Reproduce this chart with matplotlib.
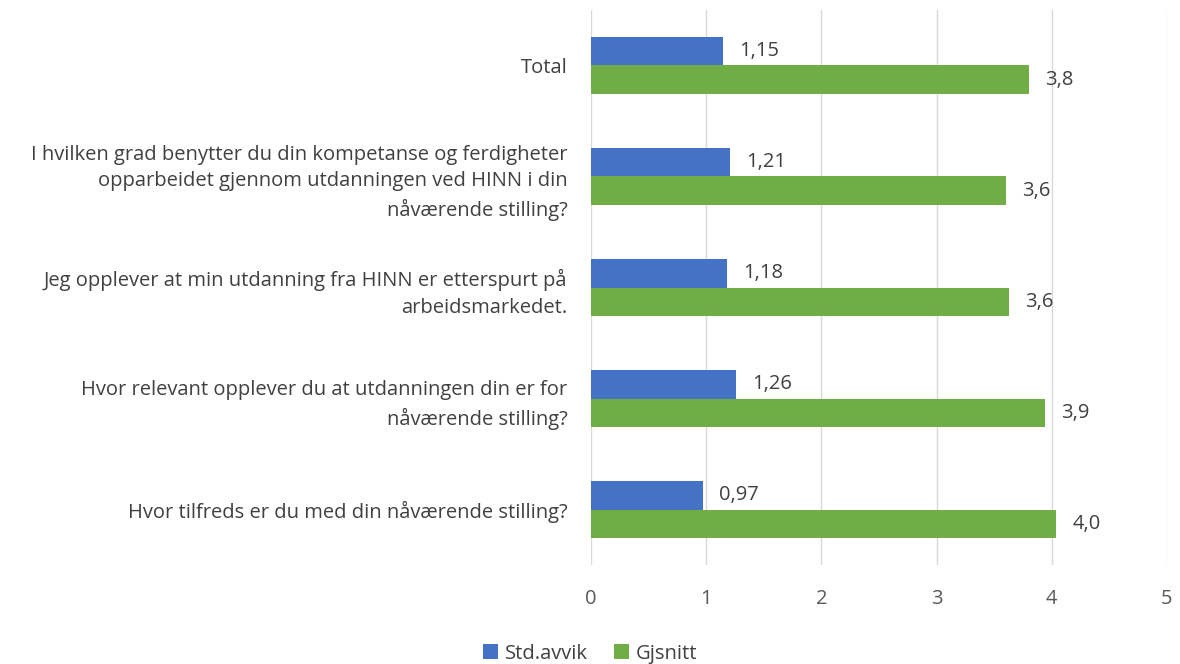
import numpy as np
import matplotlib
matplotlib.use("Agg")
import matplotlib.pyplot as plt

plt.rcParams['font.family'] = ['Open Sans', 'DejaVu Sans']

# data, bottom to top as drawn
categories = [
    "Hvor tilfreds er du med din nåværende stilling?",
    "Hvor relevant opplever du at utdanningen din er for\nnåværende stilling?",
    "Jeg opplever at min utdanning fra HINN er etterspurt på\narbeidsmarkedet.",
    "I hvilken grad benytter du din kompetanse og ferdigheter\nopparbeidet gjennom utdanningen ved HINN i din\nnåværende stilling?",
    "Total",
]
std_avvik = [0.97, 1.26, 1.18, 1.21, 1.15]
gjsnitt = [4.04, 3.94, 3.63, 3.60, 3.80]
std_labels = ["0,97", "1,26", "1,18", "1,21", "1,15"]
snitt_labels = ["4,0", "3,9", "3,6", "3,6", "3,8"]

blue = "#4472C4"
green = "#70AD47"
txt = "#404040"
fs = 14.5

fig = plt.figure(figsize=(11.8, 6.64), dpi=100)
ax = fig.add_axes([0.5008, 0.149, 0.4881, 0.836])

y = np.arange(len(categories))
h = 0.26
b1 = ax.barh(y + h / 2, std_avvik, height=h, color=blue, label="Std.avvik", zorder=3)
b2 = ax.barh(y - h / 2, gjsnitt, height=h, color=green, label="Gjsnitt", zorder=3)

for rect, lab in zip(b1, std_labels):
    ax.text(rect.get_width() + 0.14, rect.get_y() + rect.get_height() / 2, lab,
            va="center", ha="left", fontsize=fs, color=txt)
for rect, lab in zip(b2, snitt_labels):
    ax.text(rect.get_width() + 0.14, rect.get_y() + rect.get_height() / 2, lab,
            va="center", ha="left", fontsize=fs, color=txt)

ax.set_xlim(0, 5)
ax.set_ylim(-0.5, len(categories) - 0.5)
ax.set_xticks(range(6))
ax.set_yticks(y)
ax.set_yticklabels(categories, fontsize=fs, color=txt, ha="right", linespacing=1.45)
ax.tick_params(axis="x", labelsize=fs, colors="#595959", length=0, pad=17)
ax.tick_params(axis="y", length=0, pad=17)
ax.grid(axis="x", color="#d9d9d9", linewidth=1, zorder=0)
for s in ax.spines.values():
    s.set_visible(False)

leg = fig.legend(handles=[b1, b2], loc="lower center", bbox_to_anchor=(0.5, -0.027),
                 ncol=2, frameon=False, fontsize=fs, handlelength=0.75, handleheight=0.75,
                 columnspacing=1.3, handletextpad=0.35)
for t in leg.get_texts():
    t.set_color(txt)

fig.savefig("out.png", dpi=100)
